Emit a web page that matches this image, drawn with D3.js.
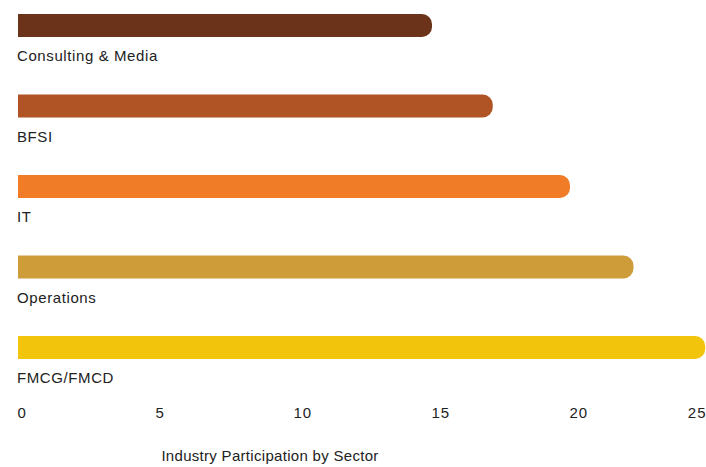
<!DOCTYPE html>
<html>
<head>
<meta charset="utf-8">
<script src="https://cdn.jsdelivr.net/npm/d3@7"></script>
<style>
  html, body { margin: 0; padding: 0; background: #fff; }
  svg { display: block; }
  text { font-family: "Liberation Sans", Arial, sans-serif; fill: #222; }
</style>
</head>
<body>
<svg id="chart" width="706" height="467"></svg>
<script>
const categories = ["Consulting & Media", "BFSI", "IT", "Operations", "FMCG/FMCD"];
const values = [15.0, 17.2, 20.0, 22.3, 24.9];
const colors = ["#6b341a", "#b05426", "#f07c28", "#cf9c3a", "#f2c40c"];
const tickValues = [0, 5, 10, 15, 20, 25];
const axisTitle = "Industry Participation by Sector";

const W = 706, H = 467;
const svg = d3.select("#chart");

const x = d3.scaleLinear().domain([0, 25]).range([18, 708]);
const y = d3.scaleBand().domain(categories).range([14, 359]).paddingInner(1 - 23 / 80.5).paddingOuter(0);

const r = 10;
function barPath(x0, x1, y0, h) {
  const rr = Math.min(r, h / 2, x1 - x0);
  return `M${x0},${y0}H${x1 - rr}A${rr},${rr} 0 0 1 ${x1},${y0 + rr}V${y0 + h - rr}A${rr},${rr} 0 0 1 ${x1 - rr},${y0 + h}H${x0}Z`;
}

const g = svg.append("g");
g.selectAll("path.bar")
  .data(categories)
  .join("path")
  .attr("class", "bar")
  .attr("d", (d, i) => barPath(x(0), x(values[i]), y(d), y.bandwidth()))
  .attr("fill", (d, i) => colors[i]);

g.selectAll("text.cat")
  .data(categories)
  .join("text")
  .attr("class", "cat")
  .attr("x", x(0) - 1)
  .attr("y", d => y(d) + y.bandwidth() + 24)
  .attr("font-size", 15)
  .attr("letter-spacing", "0.6px")
  .text(d => d);

const axis = d3.axisBottom(x).tickValues(tickValues).tickSize(0).tickPadding(0).tickFormat(d3.format("d"));
const ax = svg.append("g").attr("transform", "translate(0,404)").call(axis);
ax.select(".domain").remove();
ax.selectAll(".tick text")
  .attr("font-size", 15)
  .attr("font-family", "'Liberation Sans', Arial, sans-serif")
  .attr("fill", "#222")
  .attr("letter-spacing", "1px")
  .attr("dy", "0.95em")
  .attr("text-anchor", (d, i) => i === tickValues.length - 1 ? "end" : "start")
  .attr("x", (d, i) => i === tickValues.length - 1 ? -2 : -1);

svg.append("text")
  .attr("x", 270)
  .attr("y", 461)
  .attr("text-anchor", "middle")
  .attr("font-size", 15)
  .attr("letter-spacing", "0.3px")
  .text(axisTitle);
</script>
</body>
</html>
